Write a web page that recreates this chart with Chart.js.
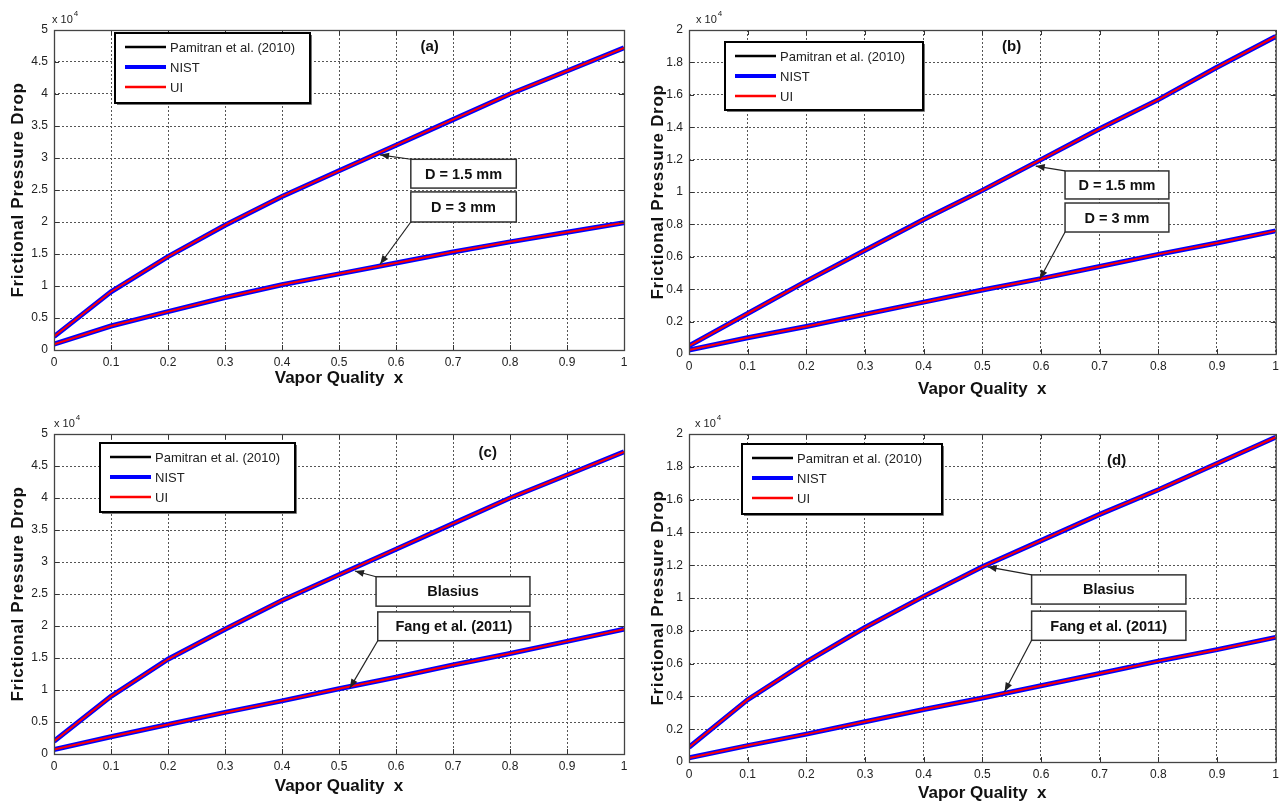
<!DOCTYPE html>
<html>
<head>
<meta charset="utf-8">
<script src="https://cdn.jsdelivr.net/npm/chart.js@4.4.1/dist/chart.umd.min.js"></script>
<style>
  html, body { margin: 0; padding: 0; background: #fff; }
  canvas { position: absolute; left: 0; top: 0; }
</style>
</head>
<body>
<canvas id="panelA" width="1284" height="803"></canvas>
<canvas id="panelB" width="1284" height="803"></canvas>
<canvas id="panelC" width="1284" height="803"></canvas>
<canvas id="panelD" width="1284" height="803"></canvas>
<script>
// vapor quality (x axis)
var quality = [0, 0.1, 0.2, 0.3, 0.4, 0.5, 0.6, 0.7, 0.8, 0.9, 1.0];

// frictional pressure drop, Pa (plotted as x 10^4)
var aSmallD = [2100, 9100, 14600, 19500, 24000, 28000, 32000, 36000, 40000, 43600, 47200];
var aLargeD = [900, 3750, 6000, 8200, 10200, 11900, 13600, 15300, 16900, 18400, 19900];
var bSmallD = [500, 2500, 4500, 6400, 8300, 10100, 12000, 13900, 15700, 17700, 19600];
var bLargeD = [250, 1000, 1700, 2450, 3200, 3950, 4650, 5400, 6150, 6850, 7600];
var cSmallD = [2000, 9000, 14800, 19500, 24000, 28000, 32000, 36000, 40000, 43600, 47200];
var cLargeD = [700, 2700, 4600, 6500, 8300, 10200, 12000, 13900, 15700, 17600, 19500];
var dSmallD = [900, 3800, 6100, 8200, 10100, 11900, 13500, 15100, 16600, 18200, 19800];
var dLargeD = [250, 1000, 1700, 2450, 3200, 3900, 4650, 5400, 6150, 6850, 7600];

var seriesNames = ['Pamitran et al. (2010)', 'NIST', 'UI'];
var seriesColors = ['#000000', '#0000ff', '#ff0000'];
var seriesWidths = [2, 5, 2];
var legendWidths = [2.5, 4, 2.5];

var FONT = '"Liberation Sans", Arial, sans-serif';

function points(arr) {
  return quality.map(function (q, i) { return { x: q, y: arr[i] }; });
}

function buildDatasets(curves) {
  var sets = [];
  curves.forEach(function (c) {
    // all three property sources overlap; UI drawn on top, NIST halo below
    for (var s = 0; s < 3; s++) {
      sets.push({
        label: seriesNames[s],
        data: points(c),
        borderColor: seriesColors[s],
        borderWidth: seriesWidths[s],
        pointRadius: 0,
        tension: 0,
        order: [2, 1, 0][s]
      });
    }
  });
  return sets;
}

function drawArrow(ctx, x1, y1, x2, y2) {
  ctx.beginPath();
  ctx.moveTo(x1, y1);
  ctx.lineTo(x2, y2);
  ctx.stroke();
  var ang = Math.atan2(y2 - y1, x2 - x1), L = 9, w = 3.5;
  var bx = x2 - L * Math.cos(ang), by = y2 - L * Math.sin(ang);
  ctx.beginPath();
  ctx.moveTo(x2, y2);
  ctx.lineTo(bx + w * Math.sin(ang), by - w * Math.cos(ang));
  ctx.lineTo(bx - w * Math.sin(ang), by + w * Math.cos(ang));
  ctx.closePath();
  ctx.fill();
}

var decorations = {
  id: 'decorations',
  afterDraw: function (chart) {
    var p = chart.config.options.panel;
    var ctx = chart.ctx, a = chart.chartArea;
    var xs = chart.scales.x, ys = chart.scales.y;
    ctx.save();

    // inward tick marks on all four sides
    ctx.strokeStyle = '#333';
    ctx.lineWidth = 1;
    ctx.beginPath();
    xs.ticks.forEach(function (t) {
      var px = Math.round(xs.getPixelForValue(t.value)) + 0.5;
      ctx.moveTo(px, a.bottom); ctx.lineTo(px, a.bottom - 5);
      ctx.moveTo(px, a.top); ctx.lineTo(px, a.top + 5);
    });
    ys.ticks.forEach(function (t) {
      var py = Math.round(ys.getPixelForValue(t.value)) + 0.5;
      ctx.moveTo(a.left, py); ctx.lineTo(a.left + 5, py);
      ctx.moveTo(a.right, py); ctx.lineTo(a.right - 5, py);
    });
    ctx.stroke();

    // axes box
    ctx.strokeStyle = '#444';
    ctx.lineWidth = 1.3;
    ctx.strokeRect(a.left + 0.5, a.top + 0.5, a.right - a.left, a.bottom - a.top);

    // exponent label
    ctx.fillStyle = '#222';
    ctx.textAlign = 'left';
    ctx.textBaseline = 'alphabetic';
    ctx.font = '11px ' + FONT;
    ctx.fillText('x 10', a.left + p.expDx, a.top - 7);
    var ew = ctx.measureText('x 10').width;
    ctx.font = '8px ' + FONT;
    ctx.fillText('4', a.left + p.expDx + ew + 1, a.top - 14);

    // axis titles
    ctx.fillStyle = '#111';
    ctx.font = 'bold 17px ' + FONT;
    ctx.textAlign = 'center';
    ctx.textBaseline = 'middle';
    ctx.fillText('Vapor Quality  x', (a.left + a.right) / 2, a.bottom + p.xTitleDy);
    ctx.save();
    ctx.translate(p.yTitleX, (a.top + a.bottom) / 2);
    ctx.rotate(-Math.PI / 2);
    ctx.letterSpacing = '0.7px';
    ctx.fillText('Frictional Pressure Drop', 0, 0);
    ctx.restore();

    // panel letter
    ctx.font = 'bold 15px ' + FONT;
    ctx.fillText(p.tag, a.left + p.tagFx * (a.right - a.left), a.top + p.tagDy);

    // annotation boxes with arrows
    p.notes.forEach(function (n) {
      var l = xs.getPixelForValue(n.x0), r = xs.getPixelForValue(n.x1);
      var t = ys.getPixelForValue(n.y1), b = ys.getPixelForValue(n.y0);
      ctx.fillStyle = '#fff';
      ctx.fillRect(l, t, r - l, b - t);
      ctx.strokeStyle = '#333';
      ctx.lineWidth = 1.5;
      ctx.strokeRect(l, t, r - l, b - t);
      ctx.fillStyle = '#111';
      ctx.font = 'bold 14.5px ' + FONT;
      ctx.textAlign = 'center';
      ctx.textBaseline = 'middle';
      ctx.fillText(n.text, (l + r) / 2, (t + b) / 2 + 1);
      ctx.strokeStyle = '#222';
      ctx.fillStyle = '#222';
      ctx.lineWidth = 1.2;
      var sy = n.from === 'top' ? t : b;
      drawArrow(ctx, l, sy, xs.getPixelForValue(n.tipX), ys.getPixelForValue(n.tipY));
    });

    // legend
    var g = p.legend;
    var lx = a.left + g.dx, ly = a.top + g.dy;
    ctx.fillStyle = '#fff';
    ctx.fillRect(lx, ly, g.w, g.h);
    ctx.strokeStyle = '#000';
    ctx.lineWidth = 2;
    ctx.strokeRect(lx, ly, g.w, g.h);
    ctx.strokeStyle = '#777';
    ctx.lineWidth = 1;
    ctx.beginPath();
    ctx.moveTo(lx + 2, ly + g.h + 1.5); ctx.lineTo(lx + g.w + 1.5, ly + g.h + 1.5);
    ctx.lineTo(lx + g.w + 1.5, ly + 2);
    ctx.stroke();
    ctx.font = '13px ' + FONT;
    ctx.textAlign = 'left';
    ctx.textBaseline = 'middle';
    for (var s = 0; s < 3; s++) {
      var ry = ly + 14 + s * 20;
      ctx.strokeStyle = seriesColors[s];
      ctx.lineWidth = legendWidths[s];
      ctx.beginPath();
      ctx.moveTo(lx + 10, ry); ctx.lineTo(lx + 51, ry);
      ctx.stroke();
      ctx.fillStyle = '#222';
      ctx.fillText(seriesNames[s], lx + 55, ry + 1);
    }
    ctx.restore();
  }
};

function makePanel(id, area, yMax, yStep, curves, panel) {
  var yAxisW = 54, xAxisH = 40;
  var tickFont = { family: FONT, size: 12 };
  return new Chart(document.getElementById(id), {
    type: 'line',
    data: { datasets: buildDatasets(curves) },
    plugins: [decorations],
    options: {
      responsive: false,
      animation: false,
      events: [],
      panel: panel,
      layout: { padding: { left: area.left - yAxisW, top: area.top, right: 1284 - area.right, bottom: 803 - area.bottom - xAxisH } },
      plugins: { legend: { display: false }, tooltip: { enabled: false } },
      scales: {
        x: {
          type: 'linear', min: 0, max: 1,
          ticks: {
            stepSize: 0.1, autoSkip: false, maxRotation: 0, padding: 5, color: '#222', font: tickFont,
            callback: function (v) { return String(Math.round(v * 10) / 10); }
          },
          grid: { color: '#555', lineWidth: 1, drawTicks: false },
          border: { display: false, dash: [2, 2] },
          afterFit: function (s) { s.height = xAxisH; }
        },
        y: {
          type: 'linear', min: 0, max: yMax,
          ticks: {
            stepSize: yStep, autoSkip: false, padding: 6, color: '#222', font: tickFont,
            callback: function (v) { return String(Math.round(v / 1000) / 10); }
          },
          grid: { color: '#555', lineWidth: 1, drawTicks: false },
          border: { display: false, dash: [2, 2] },
          afterFit: function (s) { s.width = yAxisW; }
        }
      }
    }
  });
}

makePanel('panelA', { left: 54, top: 30, right: 624, bottom: 350 }, 50000, 5000, [aSmallD, aLargeD], {
  tag: '(a)', tagFx: 0.659, tagDy: 17, expDx: -2, xTitleDy: 28, yTitleX: 18,
  legend: { dx: 61, dy: 3, w: 195, h: 70 },
  notes: [
    { text: 'D = 1.5 mm', x0: 0.626, x1: 0.811, y0: 25300, y1: 29800, from: 'top', tipX: 0.572, tipY: 30500 },
    { text: 'D = 3 mm', x0: 0.626, x1: 0.811, y0: 20000, y1: 24700, from: 'bottom', tipX: 0.572, tipY: 13400 }
  ]
});

makePanel('panelB', { left: 689, top: 30, right: 1276, bottom: 354 }, 20000, 2000, [bSmallD, bLargeD], {
  tag: '(b)', tagFx: 0.55, tagDy: 17, expDx: 7, xTitleDy: 35, yTitleX: 658,
  legend: { dx: 36, dy: 12, w: 198, h: 68 },
  notes: [
    { text: 'D = 1.5 mm', x0: 0.641, x1: 0.818, y0: 9570, y1: 11300, from: 'top', tipX: 0.591, tipY: 11600 },
    { text: 'D = 3 mm', x0: 0.641, x1: 0.818, y0: 7530, y1: 9320, from: 'bottom', tipX: 0.598, tipY: 4630 }
  ]
});

makePanel('panelC', { left: 54, top: 434, right: 624, bottom: 754 }, 50000, 5000, [cSmallD, cLargeD], {
  tag: '(c)', tagFx: 0.761, tagDy: 19, expDx: 0, xTitleDy: 32, yTitleX: 18,
  legend: { dx: 46, dy: 9, w: 195, h: 69 },
  notes: [
    { text: 'Blasius', x0: 0.565, x1: 0.835, y0: 23100, y1: 27700, from: 'top', tipX: 0.528, tipY: 28600 },
    { text: 'Fang et al. (2011)', x0: 0.568, x1: 0.835, y0: 17700, y1: 22200, from: 'bottom', tipX: 0.519, tipY: 10300 }
  ]
});

makePanel('panelD', { left: 689, top: 434, right: 1276, bottom: 762 }, 20000, 2000, [dSmallD, dLargeD], {
  tag: '(d)', tagFx: 0.729, tagDy: 27, expDx: 6, xTitleDy: 31, yTitleX: 658,
  legend: { dx: 53, dy: 10, w: 200, h: 70 },
  notes: [
    { text: 'Blasius', x0: 0.584, x1: 0.847, y0: 9630, y1: 11410, from: 'top', tipX: 0.509, tipY: 11900 },
    { text: 'Fang et al. (2011)', x0: 0.584, x1: 0.847, y0: 7420, y1: 9200, from: 'bottom', tipX: 0.538, tipY: 4300 }
  ]
});
</script>
</body>
</html>
